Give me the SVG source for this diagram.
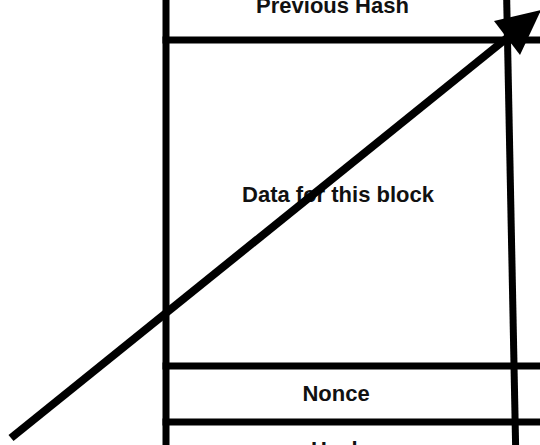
<svg xmlns="http://www.w3.org/2000/svg" width="540" height="445" viewBox="0 0 540 445">
  <style>
    .rule { stroke: #000; stroke-width: 7; fill: none; stroke-linecap: butt; }
    .label { font-family: "Liberation Sans", Arial, sans-serif; font-weight: bold; font-size: 22px; fill: #111; text-anchor: middle; }
    .arrow { stroke: #000; stroke-width: 8; fill: none; }
  </style>
  <rect width="540" height="445" fill="#fff"/>

  <!-- Block frame: side walls and field separators -->
  <g id="block-frame">
    <line class="rule" x1="166" y1="0" x2="166" y2="445"/>
    <line class="rule" x1="506.7" y1="0" x2="515.6" y2="445"/>
    <line class="rule" x1="162.5" y1="40" x2="540" y2="40"/>
    <line class="rule" x1="162.5" y1="366" x2="540" y2="366"/>
    <line class="rule" x1="162.5" y1="422" x2="540" y2="422"/>
  </g>

  <!-- Block fields -->
  <g id="field-previous-hash">
    <text class="label" x="332.5" y="13">Previous Hash</text>
  </g>
  <g id="field-data">
    <text class="label" x="338" y="201.5">Data for this block</text>
  </g>
  <g id="field-nonce">
    <text class="label" x="336" y="400.5">Nonce</text>
  </g>
  <g id="field-hash">
    <text class="label" x="338" y="457">Hash</text>
  </g>

  <!-- Connector: diagonal arrow across the block -->
  <g id="connectors">
    <line class="arrow" x1="11" y1="438" x2="507" y2="38"/>
    <polygon points="541,10 494,21 520,55" fill="#000"/>
  </g>
</svg>
